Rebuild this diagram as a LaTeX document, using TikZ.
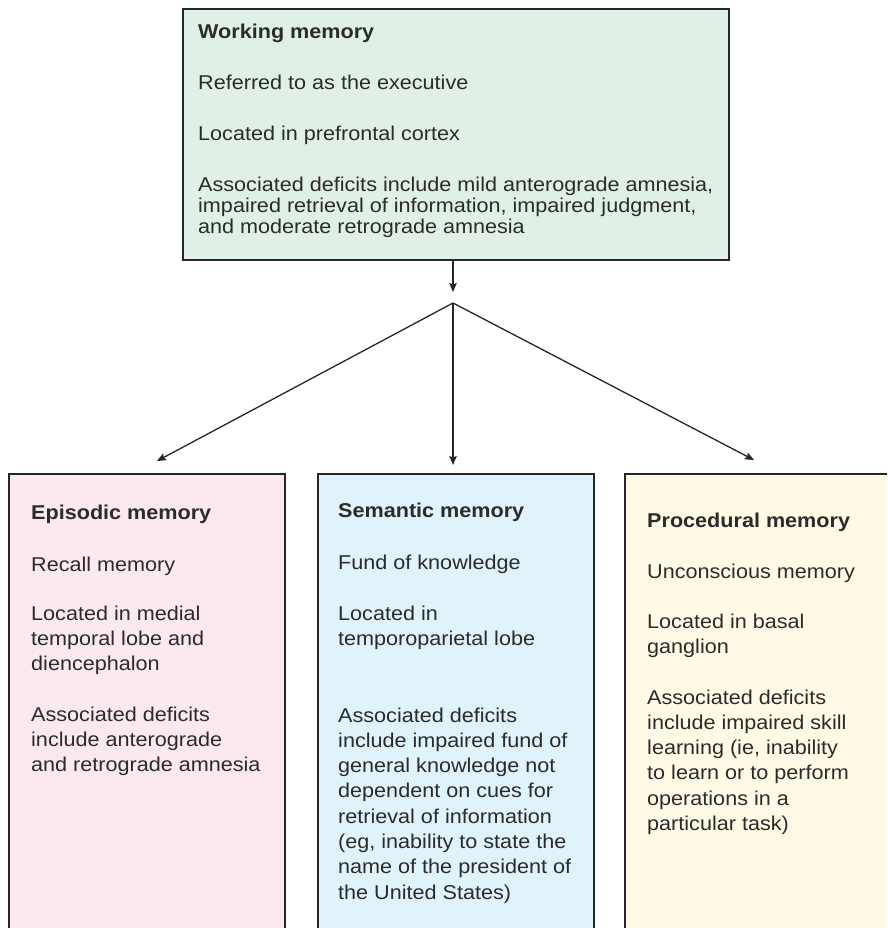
\documentclass[tikz,border=0pt]{standalone}
\usepackage{fontspec}
\setmainfont{Liberation Sans}[FakeStretch=1.08]
\usetikzlibrary{arrows.meta}

\definecolor{wmfill}{HTML}{E0F0E6}
\definecolor{epfill}{HTML}{FCE8F0}
\definecolor{smfill}{HTML}{E0F2FA}
\definecolor{prfill}{HTML}{FFFAE6}
\definecolor{inkline}{HTML}{262626}
\definecolor{inktext}{HTML}{2B2B2B}

% stacked lines whose baseline is the first line
\newcommand\mlines[1]{\begin{tabular}[t]{@{}l@{}}#1\end{tabular}}

\tikzset{
  panel/.style={draw=inkline, line width=1.6pt},
  txt/.style={anchor=base west, inner sep=0pt, text=inktext,
              font=\fontsize{20}{25.3}\selectfont},
  toptxt/.style={txt, font=\fontsize{20}{21.3}\selectfont},
  ttl/.style={txt, font=\fontsize{20}{25.3}\selectfont\bfseries},
  arr/.style={draw=inkline, line width=1.3pt,
              -{Stealth[length=9pt,width=7.5pt,inset=1.5pt]}},
  link/.style={draw=inkline, line width=1.3pt}
}

\begin{document}
\begin{tikzpicture}[x=1pt,y=-1pt]
\clip (0,0) rectangle (887,928);
\fill[white] (0,0) rectangle (887,928);

% boxes
\node[panel, fill=wmfill, minimum width=546pt, minimum height=251pt,
      inner sep=0pt, anchor=north west] (wm) at (182,8) {};
\node[panel, fill=epfill, minimum width=276pt, minimum height=480pt,
      inner sep=0pt, anchor=north west] (ep) at (8,473) {};
\node[panel, fill=smfill, minimum width=276pt, minimum height=480pt,
      inner sep=0pt, anchor=north west] (sm) at (317,473) {};
\node[panel, fill=prfill, minimum width=290pt, minimum height=480pt,
      inner sep=0pt, anchor=north west] (pr) at (624,473) {};

% working memory
\node[ttl]    (wmT) at (198,39)  {Working memory};
\node[toptxt] (wm1) at (198,90)  {Referred to as the executive};
\node[toptxt] (wm2) at (198,141) {Located in prefrontal cortex};
\node[toptxt] (wm3) at (198,191) {\mlines{Associated deficits include mild anterograde amnesia,\\
  impaired retrieval of information, impaired judgment,\\
  and moderate retrograde amnesia}};

% episodic memory
\node[ttl] (epT) at (31,519) {Episodic memory};
\node[txt] (ep1) at (31,571) {Recall memory};
\node[txt] (ep2) at (31,620) {\mlines{Located in medial\\temporal lobe and\\diencephalon}};
\node[txt] (ep3) at (31,721) {\mlines{Associated deficits\\include anterograde\\and retrograde amnesia}};

% semantic memory
\node[ttl] (smT) at (338,517) {Semantic memory};
\node[txt] (sm1) at (338,569) {Fund of knowledge};
\node[txt] (sm2) at (338,620) {\mlines{Located in\\temporoparietal lobe}};
\node[txt] (sm3) at (338,722) {\mlines{Associated deficits\\include impaired fund of\\
  general knowledge not\\dependent on cues for\\retrieval of information\\
  (eg, inability to state the\\name of the president of\\the United States)}};

% procedural memory
\node[ttl] (prT) at (647,527) {Procedural memory};
\node[txt] (pr1) at (647,578) {Unconscious memory};
\node[txt] (pr2) at (647,628) {\mlines{Located in basal\\ganglion}};
\node[txt] (pr3) at (647,704) {\mlines{Associated deficits\\include impaired skill\\
  learning (ie, inability\\to learn or to perform\\operations in a\\particular task)}};

% connectors
\coordinate (J)  at (453,303);
\coordinate (t0) at (453,292);
\coordinate (tE) at (157,461);
\coordinate (tS) at (453,465);
\coordinate (tP) at (754,460);

\draw[arr] (wm.south -| J) -- (t0);
\draw[arr] (J) -- (tE);
\draw[arr] (J) -- (tS);
\draw[arr] (J) -- (tP);
\end{tikzpicture}
\end{document}
